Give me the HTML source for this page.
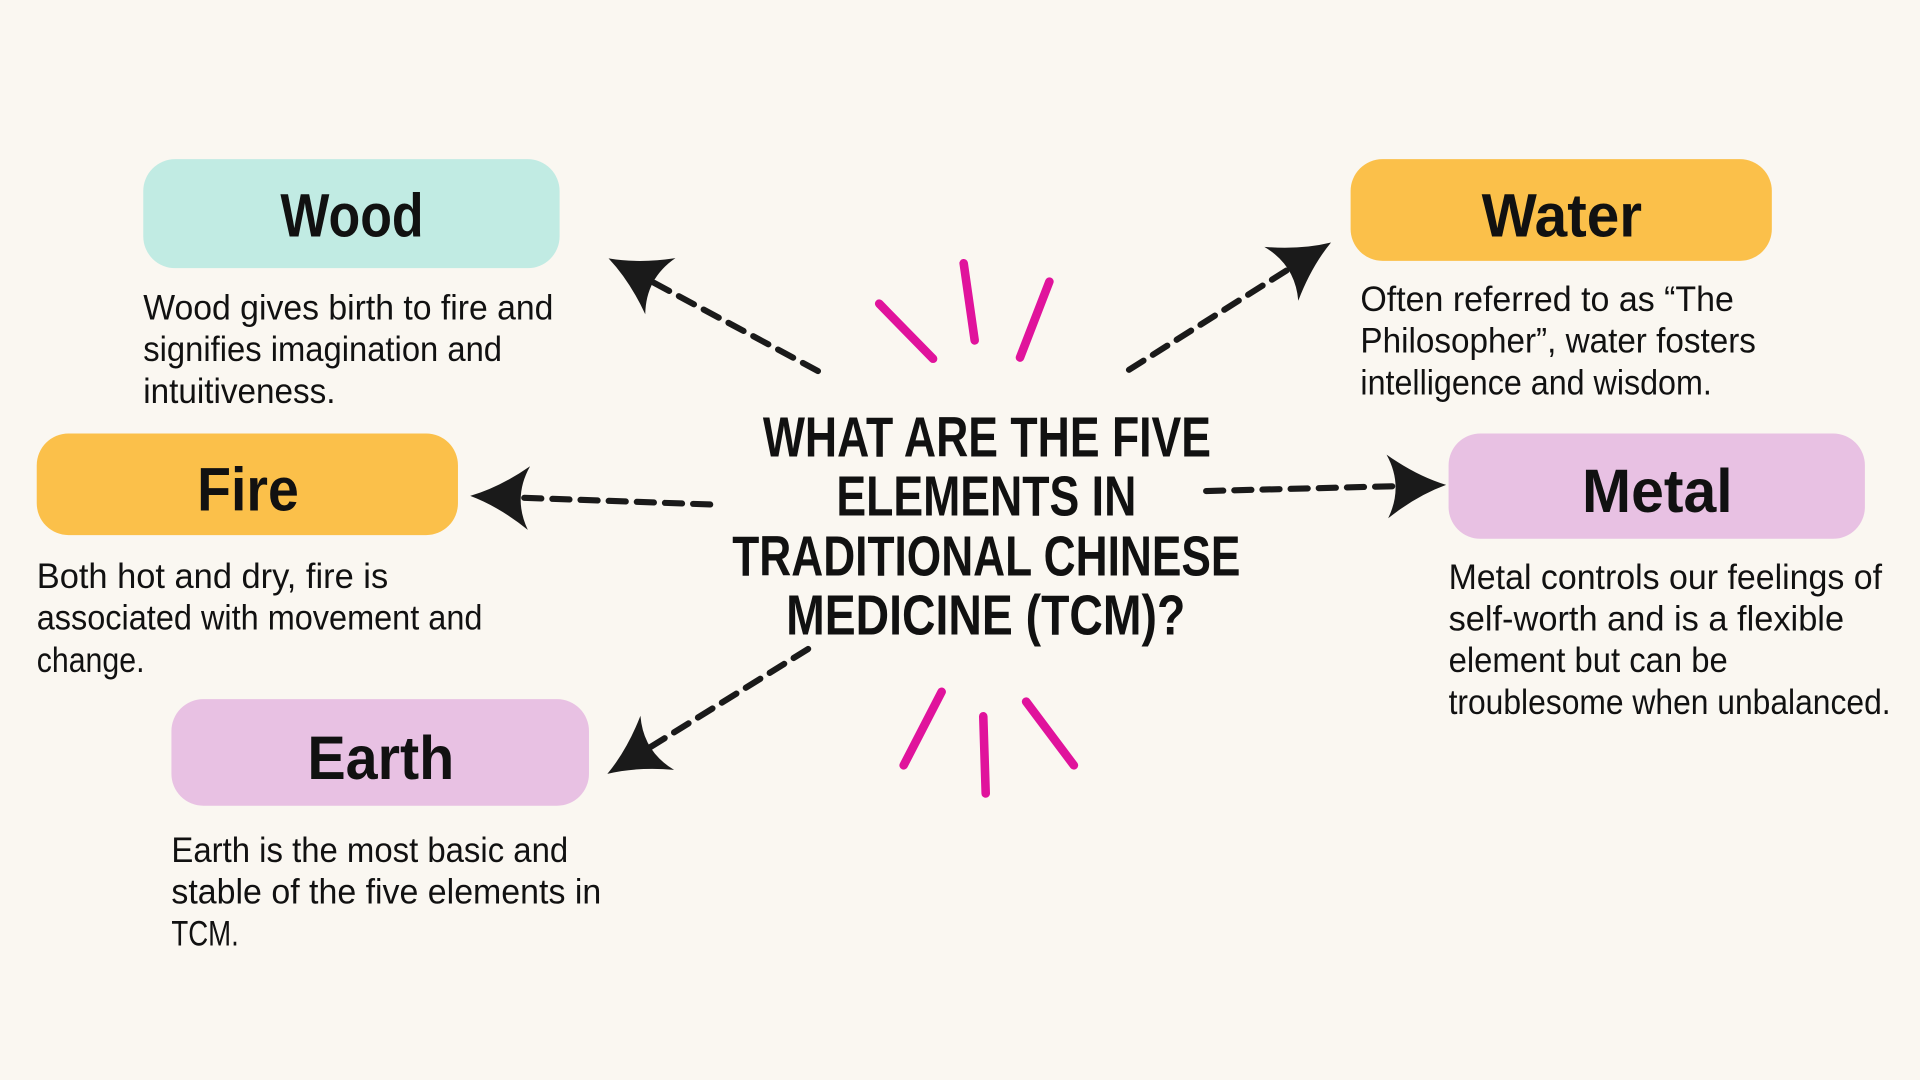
<!DOCTYPE html>
<html><head><meta charset="utf-8"><style>
html,body{margin:0;padding:0;background:#faf7f1;}
svg{display:block}
.t{font-family:"Liberation Sans Narrow","Liberation Sans",sans-serif;font-weight:bold;fill:#111;}
.b{font-family:"Liberation Sans Narrow","Liberation Sans",sans-serif;fill:#111;font-size:29px;}
</style></head><body>
<svg id="s" width="1920" height="1080" viewBox="0 0 1568 882" xmlns="http://www.w3.org/2000/svg">
<rect width="1568" height="882" fill="#faf7f1"/>
<rect x="117" y="130" width="340" height="89" rx="26" fill="#c1ebe3"/>
<rect x="1103" y="130" width="344" height="83" rx="26" fill="#fbc04a"/>
<rect x="30" y="354" width="344" height="83" rx="26" fill="#fbc04a"/>
<rect x="1183" y="354" width="340" height="86" rx="26" fill="#e8c1e3"/>
<rect x="140" y="571" width="341" height="87" rx="26" fill="#e8c1e3"/>
<g class="t" font-size="50" lengthAdjust="spacingAndGlyphs">
<text x="229" y="193" textLength="117" lengthAdjust="spacingAndGlyphs">Wood</text>
<text x="1210" y="193" textLength="131" lengthAdjust="spacingAndGlyphs">Water</text>
<text x="161" y="417" textLength="83" lengthAdjust="spacingAndGlyphs">Fire</text>
<text x="1292" y="418" textLength="123" lengthAdjust="spacingAndGlyphs">Metal</text>
<text x="251" y="636" textLength="120" lengthAdjust="spacingAndGlyphs">Earth</text>
</g>
<g class="t" font-size="46">
<text x="623" y="373" textLength="366" lengthAdjust="spacingAndGlyphs">WHAT ARE THE FIVE</text>
<text x="683" y="421" textLength="245" lengthAdjust="spacingAndGlyphs">ELEMENTS IN</text>
<text x="598" y="470" textLength="415" lengthAdjust="spacingAndGlyphs">TRADITIONAL CHINESE</text>
<text x="642" y="518" textLength="326" lengthAdjust="spacingAndGlyphs">MEDICINE (TCM)?</text>
</g>
<g class="b">
<text x="117" y="261" textLength="335" lengthAdjust="spacingAndGlyphs">Wood gives birth to fire and</text>
<text x="117" y="295" textLength="293" lengthAdjust="spacingAndGlyphs">signifies imagination and</text>
<text x="117" y="329" textLength="157" lengthAdjust="spacingAndGlyphs">intuitiveness.</text>
<text x="1111" y="254" textLength="305" lengthAdjust="spacingAndGlyphs">Often referred to as “The</text>
<text x="1111" y="288" textLength="323" lengthAdjust="spacingAndGlyphs">Philosopher”, water fosters</text>
<text x="1111" y="322" textLength="287" lengthAdjust="spacingAndGlyphs">intelligence and wisdom.</text>
<text x="30" y="480" textLength="287" lengthAdjust="spacingAndGlyphs">Both hot and dry, fire is</text>
<text x="30" y="514" textLength="364" lengthAdjust="spacingAndGlyphs">associated with movement and</text>
<text x="30" y="549" textLength="88" lengthAdjust="spacingAndGlyphs">change.</text>
<text x="1183" y="481" textLength="354" lengthAdjust="spacingAndGlyphs">Metal controls our feelings of</text>
<text x="1183" y="515" textLength="323" lengthAdjust="spacingAndGlyphs">self-worth and is a flexible</text>
<text x="1183" y="549" textLength="228" lengthAdjust="spacingAndGlyphs">element but can be</text>
<text x="1183" y="583" textLength="361" lengthAdjust="spacingAndGlyphs">troublesome when unbalanced.</text>
<text x="140" y="704" textLength="324" lengthAdjust="spacingAndGlyphs">Earth is the most basic and</text>
<text x="140" y="738" textLength="351" lengthAdjust="spacingAndGlyphs">stable of the five elements in</text>
<text x="140" y="772" textLength="55" lengthAdjust="spacingAndGlyphs">TCM.</text>
</g>
<g stroke="#e0139c" stroke-width="7" stroke-linecap="round" fill="none">
<line x1="718" y1="248" x2="762" y2="293"/>
<line x1="787" y1="215" x2="796" y2="278"/>
<line x1="857" y1="230" x2="833" y2="292"/>
<line x1="769" y1="565" x2="738" y2="625"/>
<line x1="803" y1="585" x2="805" y2="648"/>
<line x1="838" y1="573" x2="877" y2="625"/>
</g>
<g id="arrows"></g>
</svg>
<script>
var A=[[668,303,497,211],[922,302,1087,198],[580,412,384,405],[985,401,1181,396],[660,530,496,632]];
var g=document.getElementById('arrows'),h='';
A.forEach(function(a){
var dx=a[2]-a[0],dy=a[3]-a[1],L=Math.hypot(dx,dy),ux=dx/L,uy=dy/L,px=-uy,py=ux;
var HL=48,HW=26,tx=a[2],ty=a[3];
var bx=tx-ux*HL,by=ty-uy*HL;
var nx=tx-ux*HL*0.72,ny=ty-uy*HL*0.72;
var c1x=bx+px*HW,c1y=by+py*HW,c2x=bx-px*HW,c2y=by-py*HW;
h+='<line x1="'+a[0]+'" y1="'+a[1]+'" x2="'+nx+'" y2="'+ny+'" stroke="#1a1a1a" stroke-width="5" stroke-dasharray="14 9" stroke-linecap="round"/>';
var m1x=(tx+c1x)/2-px*5,m1y=(ty+c1y)/2-py*5,m2x=(tx+c2x)/2+px*5,m2y=(ty+c2y)/2+py*5;
h+='<path fill="#1a1a1a" d="M'+tx+' '+ty+' Q'+m1x+' '+m1y+' '+c1x+' '+c1y+' Q'+nx+' '+ny+' '+c2x+' '+c2y+' Q'+m2x+' '+m2y+' '+tx+' '+ty+'Z"/>';
});
g.innerHTML=h;
</script>
</body></html>
